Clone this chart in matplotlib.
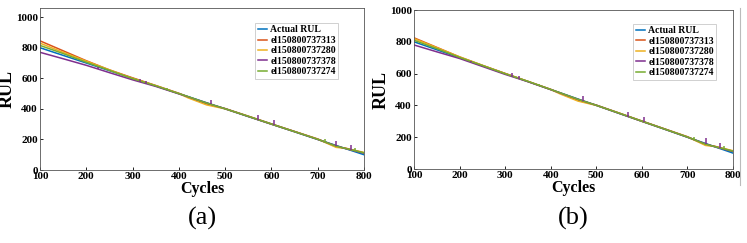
import matplotlib.pyplot as plt
import numpy as np
from matplotlib.lines import Line2D

plt.rcParams['font.family'] = ['Liberation Serif', 'DejaVu Serif']

# ---- data ----
cycles = [100, 150, 200, 250, 300, 350, 400, 420, 460, 500, 550, 600, 650, 700, 740, 760, 800]
actual_rul = [800, 750, 700, 650, 600, 550, 500, 480, 440, 400, 350, 300, 250, 200, 160, 140, 100]

names = ['Actual RUL', 'el150800737313', 'el150800737280', 'el150800737378', 'el150800737274']
colors = ['#0072BD', '#D95319', '#EDB120', '#7E2F8E', '#77AC30']

# panel (a)
a_313 = [845, 780, 715, 655, 603, 553, 502, 478, 432, 402, 352, 302, 252, 203, 152, 143, 112]
a_280 = [830, 770, 712, 655, 600, 552, 500, 472, 426, 400, 352, 300, 252, 202, 148, 142, 115]
a_378 = [770, 728, 685, 637, 590, 547, 498, 479, 438, 401, 350, 300, 251, 200, 158, 140, 110]
a_274 = [815, 762, 705, 652, 598, 551, 500, 480, 438, 401, 351, 301, 251, 201, 156, 141, 112]

# panel (b)
b_313 = [825, 765, 705, 652, 601, 551, 501, 478, 432, 402, 352, 302, 252, 203, 152, 143, 112]
b_280 = [820, 763, 705, 652, 600, 551, 500, 473, 427, 400, 352, 300, 252, 202, 148, 142, 115]
b_378 = [780, 737, 695, 645, 595, 549, 499, 479, 438, 401, 350, 300, 251, 200, 158, 140, 110]
b_274 = [810, 757, 702, 651, 599, 551, 500, 480, 438, 401, 351, 301, 251, 201, 156, 141, 112]

# small spikes: cycle, series index, height
spike_x = [225, 315, 330, 375, 470, 570, 605, 715, 740, 772, 780]
spike_s = [3, 3, 3, 4, 3, 3, 3, 4, 3, 3, 4]
spike_h = [12, 20, 15, 12, 30, 30, 30, 20, 35, 35, 20]

panels = [
    ('(a)', [actual_rul, a_313, a_280, a_378, a_274], 1060,
     [40, 8, 364, 170], (0.664, 0.907)),
    ('(b)', [actual_rul, b_313, b_280, b_378, b_274], 1000,
     [414, 10, 733, 169], (0.687, 0.912)),
]

W, H = 747, 243
fig = plt.figure(figsize=(W / 100, H / 100), dpi=100)

for tag, series, ytop, box, leg_pos in panels:
    x0, y0, x1, y1 = box
    ax = fig.add_axes([x0 / W, 1 - y1 / H, (x1 - x0) / W, (y1 - y0) / H])
    for vals, name, c in zip(series, names, colors):
        ax.plot(cycles, vals, color=c, lw=1.1, label=name)
    for sx, si, sh in zip(spike_x, spike_s, spike_h):
        base = np.interp(sx, cycles, series[si])
        ax.vlines(sx, base, base + sh, color=colors[si], lw=1.1)

    ax.set_xlim(100, 800)
    ax.set_ylim(0, ytop)
    ax.set_xticks(range(100, 801, 100))
    ax.set_yticks(range(0, 1001, 200))
    ax.tick_params(direction='in', length=2.5, width=0.6, labelsize=8, pad=1.5)
    for lab in ax.get_xticklabels() + ax.get_yticklabels():
        lab.set_fontweight('bold')
    for sp in ax.spines.values():
        sp.set_linewidth(0.6)
        sp.set_color('#555555')
    ax.set_xlabel('Cycles', fontsize=11.5, fontweight='bold', labelpad=0)
    ax.set_ylabel('RUL', fontsize=13, fontweight='bold', labelpad=0)

    leg = ax.legend(loc='upper left', bbox_to_anchor=leg_pos,
                    prop={'weight': 'bold', 'size': 7}, frameon=True,
                    fancybox=False, handlelength=1.0, handletextpad=0.3,
                    labelspacing=0.15, borderpad=0.25, borderaxespad=0)
    leg.get_frame().set_edgecolor('#bbbbbb')
    leg.get_frame().set_linewidth(0.6)

    fig.text((x0 + x1) / 2 / W, 1 - 218 / H, tag, ha='center', va='center', fontsize=19)

# leftover border line at the right edge of panel (b)
fig.add_artist(Line2D([740 / W, 740 / W], [1 - 185 / H, 1 - 8 / H], color='#bbbbbb', lw=0.8))

fig.savefig('out.png', dpi=100)
